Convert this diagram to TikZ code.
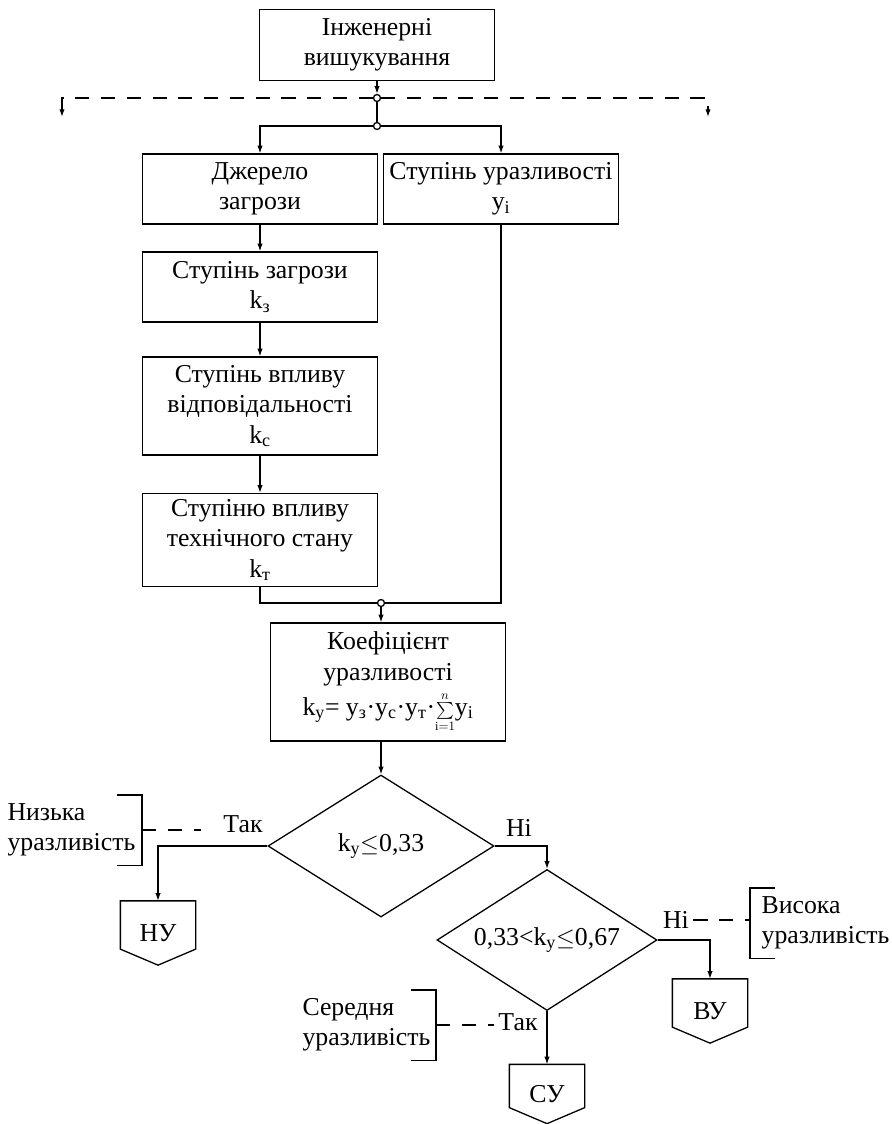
\documentclass[tikz,border=0pt]{standalone}
\usepackage{amsmath}
\usepackage{fontspec}
\setmainfont{Liberation Serif}
\usetikzlibrary{arrows.meta, shapes.geometric}
\def\px{0.03cm}
\newcommand{\offpage}[1]{%
% pentagon round node #1
\draw (#1.north west) -- (#1.north east)
  -- ([yshift=16*\px]#1.south east) -- (#1.south)
  -- ([yshift=16*\px]#1.south west) -- cycle;
}
\newcommand{\bracketR}[1]{%
% bracket on the east side of #1
\draw ([xshift=-25*\px]#1.north east) -- (#1.north east)
  -- (#1.south east) -- ([xshift=-25*\px]#1.south east);
}
\newcommand{\bracketL}[1]{%
% bracket on the west side of #1
\draw ([xshift=25*\px]#1.north west) -- (#1.north west)
  -- (#1.south west) -- ([xshift=25*\px]#1.south west);
}
\newcommand{\smallsum}{{\fontsize{15}{15}\selectfont$\sum\limits_{\mathrm{i}=1}^{n}$}}

\begin{document}
\begin{tikzpicture}[
    x=\px, y=-\px,
    line width=1.1pt,
    >={Latex[length=2.3mm,width=1.6mm]},
    every node/.style={font=\fontsize{22}{26}\selectfont},
    box/.style={rectangle, draw, minimum width=235*\px, align=center, inner sep=2pt},
    junct/.style={circle, draw, fill=white, inner sep=0pt, minimum size=7*\px},
    decision/.style={diamond, draw, aspect=1.6, inner sep=0pt},
    outbox/.style={rectangle, minimum width=74*\px, minimum height=63*\px, inner sep=0pt},
    note/.style={align=left, inner ysep=0pt, minimum height=69*\px},
    dashline/.style={dash pattern=on 12pt off 10pt}
]
\useasboundingbox (0,0) rectangle (891,1124);

% upper part
\node[box, minimum height=71*\px] (ing) at (377,45) {Інженерні\\вишукування};
\node[junct] (c1) at (377,98) {};
\node[junct] (c2) at (377,126) {};
\coordinate (dl) at (62,117);
\coordinate (dr) at (708,117);
\node[box, minimum height=70*\px] (dzh) at (260,189) {Джерело\\загрози};
\node[box, minimum height=70*\px] (uy) at (501,189) {Ступінь уразливості\\у\textsubscript{i}};
\node[box, minimum height=70*\px] (kz) at (260,287) {Ступінь загрози\\k\textsubscript{з}};
\node[box, minimum height=98*\px] (kc) at (260,406) {Ступінь впливу\\відповідальності\\k\textsubscript{с}};
\node[box, minimum height=93*\px] (kt) at (260,540) {Ступіню впливу\\технічного стану\\k\textsubscript{т}};
\node[junct] (c3) at (381,603) {};
\node[box, minimum height=118*\px] (koef) at (388,682)
  {Коефіцієнт\\уразливості\\[4pt]k\textsubscript{у}= у\textsubscript{з}·у\textsubscript{с}·у\textsubscript{т}·\smallsum у\textsubscript{i}};

% decisions
\node[decision, minimum width=226*\px, minimum height=142*\px] (d1) at (381,846) {k\textsubscript{у}$\le$0,33};
\node[decision, minimum width=220*\px, minimum height=141*\px] (d2) at (547,940) {0,33<k\textsubscript{у}$\le$0,67};
\node[outbox] (nu) at (158,933) {НУ};
\node[outbox] (vu) at (710,1011) {ВУ};
\node[outbox, minimum height=58*\px] (su) at (547,1094) {СУ};

% labels
\node (tak1) at (243,824) {Так};
\node (ni1) at (519,828) {Ні};
\node (ni2) at (676,920) {Ні};
\node (tak2) at (518,1022) {Так};
\node[note, anchor=east, inner xsep=6*\px] (low) at (142,830) {Низька\\уразливість};
\node[note, anchor=west, inner xsep=11*\px] (high) at (750,923) {Висока\\уразливість};
\node[note, anchor=east, inner xsep=5*\px] (mid) at (436,1025) {Середня\\уразливість};

% connectors
\draw[->] (ing) -- (c1);
\draw[dashline,->] (c1) -| (dl);
\draw[dashline,->] (c1) -| (dr);
\draw (c1) -- (c2);
\draw[->] (c2) -| (dzh);
\draw[->] (c2) -| (uy);
\draw[->] (dzh) -- (kz);
\draw[->] (kz) -- (kc);
\draw[->] (kc) -- (kt);
\draw (kt) |- (c3);
\draw (uy) |- (c3);
\draw[->] (c3) -- (c3 |- koef.north);
\draw[->] (koef.south -| d1.north) -- (d1);
\draw[->] (d1) -| (nu);
\draw[->] (d1) -| (d2);
\draw[->] (d2) -| (vu);
\draw[->] (d2) -- (su);
\draw[dashline, shorten >=18*\px] (low.east) -- (low.east -| tak1.west);
\draw[dashline] (ni2.east) -- (ni2.east -| high.west);
\draw[dashline] (mid.east) -- (mid.east -| tak2.west);
\bracketR{low}
\bracketL{high}
\bracketR{mid}
\offpage{nu}
\offpage{vu}
\offpage{su}
\end{tikzpicture}
\end{document}
